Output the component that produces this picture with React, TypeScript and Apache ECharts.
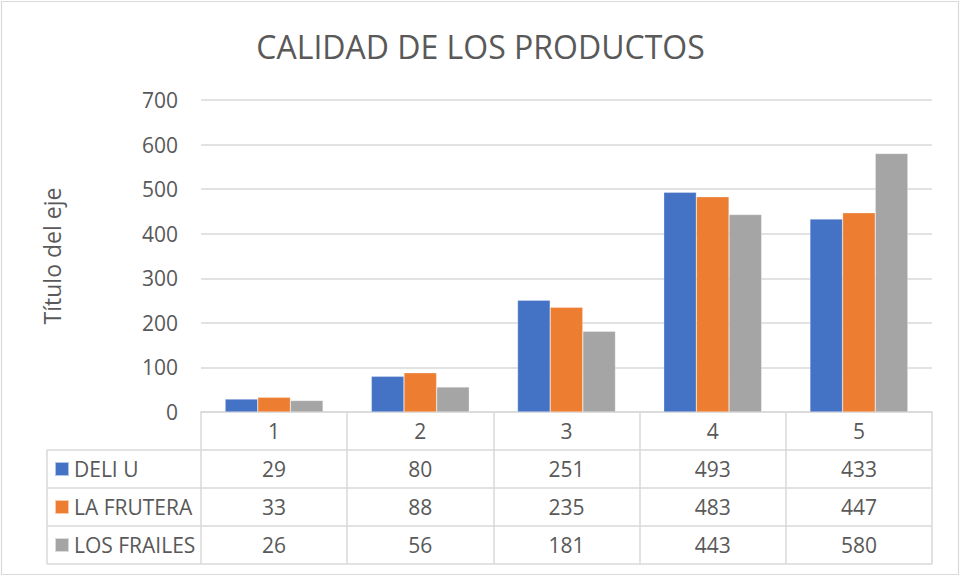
import React, { useEffect, useRef } from "react";
import * as echarts from "echarts";

const categories = ["1", "2", "3", "4", "5"];
const deliU = [29, 80, 251, 493, 433];
const laFrutera = [33, 88, 235, 483, 447];
const losFrailes = [26, 56, 181, 443, 580];
const seriesNames = ["DELI U", "LA FRUTERA", "LOS FRAILES"];
const colors = ["#4472C4", "#ED7D31", "#A5A5A5"];

const W = 961;
const H = 576;
const GRID_LEFT = 201;
const GRID_RIGHT = 932;
const GRID_TOP = 100;
const GRID_BOTTOM = 412;
const ROW_H = 38;
const TABLE_LEFT = 47;
const FONT = "'Open Sans', 'Noto Sans', sans-serif";
const TEXT = "#595959";
const LINE = "#d9d9d9";

export default function App() {
  const ref = useRef<HTMLDivElement>(null);
  useEffect(() => {
    document.body.style.margin = "0";
    if (!ref.current) return;
    const chart = echarts.init(ref.current, undefined, { renderer: "svg" });
    const allSeries = [deliU, laFrutera, losFrailes];
    const tableBottom = GRID_BOTTOM + ROW_H * 4;
    const hLines = [1, 2, 3, 4].map((i) => ({
      type: "line",
      shape: { x1: TABLE_LEFT, y1: GRID_BOTTOM + ROW_H * i, x2: GRID_RIGHT, y2: GRID_BOTTOM + ROW_H * i },
      style: { stroke: LINE, lineWidth: 1.5 },
      z: 10,
    }));
    const legends = seriesNames.map((name, i) => ({
      orient: "vertical",
      left: 54,
      top: GRID_BOTTOM + ROW_H * (i + 1) + ROW_H / 2 - 10.5,
      itemWidth: 14,
      itemHeight: 14,
      icon: "rect",
      data: [name],
      padding: 0,
      textStyle: { fontFamily: FONT, fontSize: 21, color: TEXT, lineHeight: 21 },
      selectedMode: false,
    }));
    chart.setOption({
      animation: false,
      backgroundColor: "#fff",
      textStyle: { fontFamily: FONT },
      title: {
        text: "CALIDAD DE LOS PRODUCTOS",
        left: "center",
        top: 25,
        textStyle: { fontFamily: FONT, fontSize: 32, fontWeight: "normal", color: TEXT },
      },
      legend: legends,
      grid: {
        left: GRID_LEFT,
        right: W - GRID_RIGHT,
        top: GRID_TOP,
        bottom: H - GRID_BOTTOM,
        containLabel: false,
      },
      xAxis: {
        type: "category",
        data: categories,
        axisLine: { show: true, lineStyle: { color: LINE, width: 1.5 } },
        axisTick: { show: true, length: ROW_H * 4, interval: 0, lineStyle: { color: LINE, width: 1.5 } },
        axisLabel: {
          interval: 0,
          margin: 0,
          fontFamily: FONT,
          fontSize: 21,
          color: TEXT,
          lineHeight: ROW_H,
          formatter: (v: string, idx: number) =>
            [v, ...allSeries.map((s) => String(s[idx]))].join("\n"),
        },
      },
      yAxis: {
        type: "value",
        min: 0,
        max: 700,
        interval: 100,
        name: "Título del eje",
        nameLocation: "middle",
        nameRotate: 90,
        nameGap: 138,
        nameTextStyle: { fontFamily: FONT, fontSize: 23, color: TEXT },
        axisLine: { show: false },
        axisTick: { show: false },
        axisLabel: { fontFamily: FONT, fontSize: 21, color: TEXT, margin: 23 },
        splitLine: { lineStyle: { color: LINE, width: 1.5 } },
      },
      series: allSeries.map((data, i) => ({
        name: seriesNames[i],
        type: "bar",
        data,
        barGap: "0%",
        barCategoryGap: "33%",
        itemStyle: { color: colors[i], borderColor: "rgba(255,255,255,0.6)", borderWidth: 0.5 },
      })),
      graphic: [
        {
          type: "rect",
          shape: { x: 1.5, y: 1.5, width: W - 4, height: H - 3 },
          style: { fill: "none", stroke: LINE, lineWidth: 1.2 },
          silent: true,
        },
        ...hLines,
        {
          type: "line",
          shape: { x1: TABLE_LEFT, y1: GRID_BOTTOM + ROW_H, x2: TABLE_LEFT, y2: tableBottom },
          style: { stroke: LINE, lineWidth: 1.5 },
          z: 10,
        },
      ],
    });
    return () => chart.dispose();
  }, []);
  return <div ref={ref} style={{ width: W, height: H }} />;
}
